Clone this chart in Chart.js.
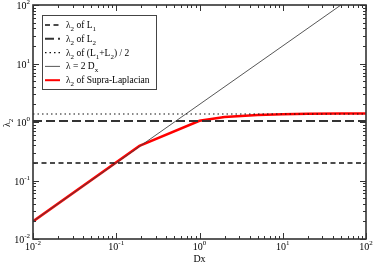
<!DOCTYPE html>
<html>
<head>
<meta charset="utf-8">
<script src="https://cdn.jsdelivr.net/npm/chart.js@4/dist/chart.umd.min.js"></script>
<style>
  html, body { margin: 0; padding: 0; background: #fff; }
</style>
</head>
<body>
<canvas id="chartdiv" width="374" height="264"></canvas>
<script>
// data
var dxRange = [0.01, 100];
var lambdaL1 = 0.2;
var lambdaL2 = 1.04;
var lambdaMean = 1.37;
var linearDx = [0.01, 50];           // lambda = 2 Dx
var supraDx = [0.01, 0.19, 1.0, 2, 5, 10, 20, 50, 100];
var supraLambda = [0.02, 0.39, 1.05, 1.22, 1.32, 1.36, 1.38, 1.4, 1.4];
var decadeTicks = [0.01, 0.1, 1, 10, 100];
var decadeExps = ['-2', '-1', '0', '1', '2'];

// legend labels: [text, subscript] pieces
var legendLabels = [
  [['λ', '2'], [' of L', '1']],
  [['λ', '2'], [' of L', '2']],
  [['λ', '2'], [' of (L', '1'], ['+L', '2'], [') / 2', '']],
  [['λ = 2 D', 'x']],
  [['λ', '2'], [' of Supra-Laplacian', '']]
];

var FONT = '"Liberation Serif", "DejaVu Serif", serif';

function flat(xs, y) {
  return xs.map(function (x) { return { x: x, y: y }; });
}

var data = {
  datasets: [
    { data: flat(dxRange, lambdaL1), borderColor: '#111', borderWidth: 1.5, borderDash: [5, 3.5] },
    { data: flat(dxRange, lambdaL2), borderColor: '#333', borderWidth: 2, borderDash: [9, 4] },
    { data: flat(dxRange, lambdaMean), borderColor: '#111', borderWidth: 1.2, borderDash: [1.5, 3] },
    { data: linearDx.map(function (x) { return { x: x, y: 2 * x }; }), borderColor: '#444', borderWidth: 0.9 },
    { data: supraDx.map(function (x, i) { return { x: x, y: supraLambda[i] }; }), borderColor: '#ff0000', borderWidth: 2.5 }
  ]
};

function drawRich(ctx, x, y, parts, size) {
  // draws text with subscripts, returns end x
  parts.forEach(function (p) {
    ctx.font = size + 'px ' + FONT;
    ctx.fillText(p[0], x, y);
    x += ctx.measureText(p[0]).width;
    if (p[1]) {
      ctx.font = Math.round(size * 0.7) + 'px ' + FONT;
      ctx.fillText(p[1], x, y + 3);
      x += ctx.measureText(p[1]).width;
    }
  });
  return x;
}

function powWidth(ctx, exp) {
  ctx.font = '10px ' + FONT;
  var w = ctx.measureText('10').width;
  ctx.font = '7px ' + FONT;
  return w + ctx.measureText(exp).width;
}

function drawPow(ctx, x, y, exp) {
  ctx.font = '10px ' + FONT;
  ctx.fillText('10', x, y);
  var w = ctx.measureText('10').width;
  ctx.font = '7px ' + FONT;
  ctx.fillText(exp, x + w, y - 5);
}

var framePlugin = {
  id: 'frame',
  afterDraw: function (chart) {
    var ctx = chart.ctx, ca = chart.chartArea;
    var xs = chart.scales.x, ys = chart.scales.y;
    ctx.save();
    ctx.strokeStyle = '#333';
    ctx.fillStyle = '#000';

    // inner ticks, all four sides
    ctx.lineWidth = 1;
    ctx.beginPath();
    for (var d = 0; d < decadeTicks.length; d++) {
      for (var k = 1; k <= 9; k++) {
        var v = decadeTicks[d] * k;
        if (v > 100.0001) break;
        var len = k === 1 ? 6 : 3;
        var px = Math.round(xs.getPixelForValue(v)) + 0.5;
        ctx.moveTo(px, ca.bottom); ctx.lineTo(px, ca.bottom - len);
        ctx.moveTo(px, ca.top); ctx.lineTo(px, ca.top + len);
        var py = Math.round(ys.getPixelForValue(v)) + 0.5;
        ctx.moveTo(ca.left, py); ctx.lineTo(ca.left + len, py);
        ctx.moveTo(ca.right, py); ctx.lineTo(ca.right - len, py);
      }
    }
    ctx.stroke();

    // frame
    ctx.lineWidth = 1.6;
    ctx.strokeRect(ca.left, ca.top, ca.right - ca.left, ca.bottom - ca.top);

    // tick labels
    ctx.textAlign = 'left';
    ctx.textBaseline = 'alphabetic';
    decadeTicks.forEach(function (v, i) {
      var w = powWidth(ctx, decadeExps[i]);
      var px = xs.getPixelForValue(v);
      drawPow(ctx, px - w / 2, 250, decadeExps[i]);
      var py = ys.getPixelForValue(v);
      drawPow(ctx, 30 - w, py + 4, decadeExps[i]);
    });

    // axis titles
    ctx.font = '10px ' + FONT;
    ctx.textAlign = 'center';
    ctx.fillText('Dx', xs.getPixelForValue(1), 262);
    ctx.save();
    ctx.translate(10, ys.getPixelForValue(1));
    ctx.rotate(-Math.PI / 2);
    ctx.textAlign = 'left';
    drawRich(ctx, -5, 0, [['λ', '2']], 10);
    ctx.restore();

    // legend box
    ctx.fillStyle = '#fff';
    ctx.fillRect(42.5, 15.5, 114, 74);
    ctx.lineWidth = 1;
    ctx.strokeStyle = '#444';
    ctx.strokeRect(42.5, 15.5, 114, 74);
    ctx.textAlign = 'left';
    chart.data.datasets.forEach(function (ds, i) {
      var y = 25 + i * 13.8;
      ctx.save();
      ctx.strokeStyle = ds.borderColor;
      ctx.lineWidth = Math.min(ds.borderWidth, 2);
      ctx.setLineDash(ds.borderDash || []);
      ctx.beginPath();
      ctx.moveTo(45, y); ctx.lineTo(60, y);
      ctx.stroke();
      ctx.restore();
      ctx.fillStyle = '#000';
      drawRich(ctx, 66, y + 3, legendLabels[i], 9.5);
    });
    ctx.restore();
  }
};

var ctx = document.querySelector('#chartdiv');
var chart = new Chart(ctx, {
  type: 'line',
  data: data,
  options: {
    responsive: false,
    animation: false,
    devicePixelRatio: 1,
    layout: { padding: { left: 33, right: 8, top: 5, bottom: 25 } },
    elements: { point: { radius: 0 }, line: { tension: 0, fill: false } },
    plugins: { legend: { display: false }, tooltip: { enabled: false } },
    scales: {
      x: { type: 'logarithmic', min: dxRange[0], max: dxRange[1], display: false },
      y: { type: 'logarithmic', min: 0.01, max: 100, display: false }
    }
  },
  plugins: [framePlugin]
});
</script>
</body>
</html>
